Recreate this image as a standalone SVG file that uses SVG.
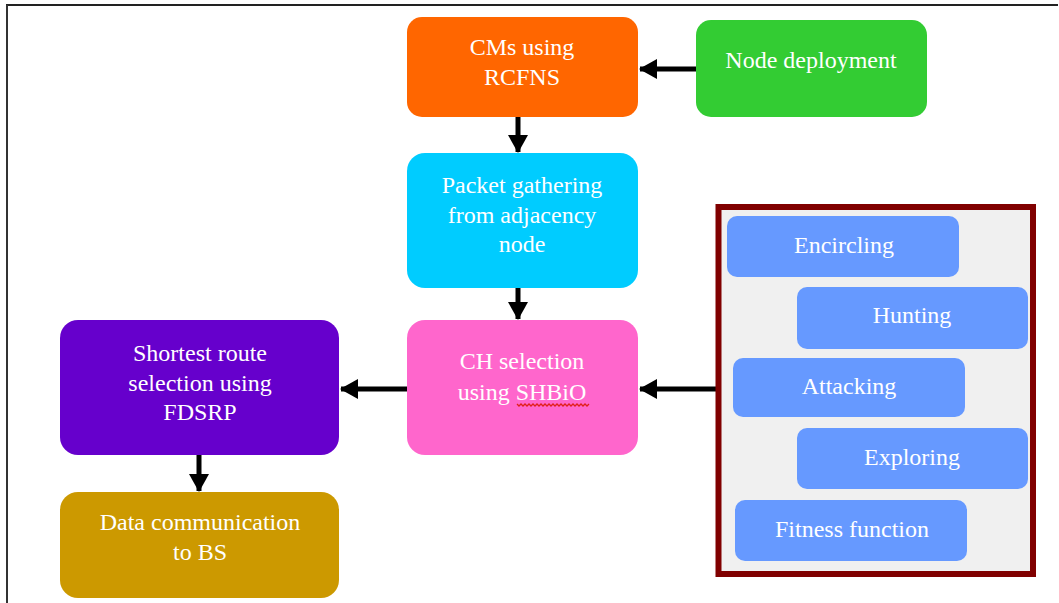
<svg xmlns="http://www.w3.org/2000/svg" width="1059" height="603" viewBox="0 0 1059 603">
  <style>
    .box { stroke: none; }
    .lbl { font-family: 'Liberation Serif', 'DejaVu Serif', serif; font-size: 24px; fill: #ffffff; text-anchor: middle; }
    .conn { stroke: #000000; stroke-width: 5; fill: none; marker-end: url(#head); }
    .step { fill: #6699ff; }
  </style>
  <defs>
    <marker id="head" markerUnits="userSpaceOnUse" markerWidth="18" markerHeight="20" refX="17" refY="10" orient="auto">
      <path d="M0,0 L18,10 L0,20 z" fill="#000000"/>
    </marker>
  </defs>

  <!-- page frame -->
  <rect x="0" y="0" width="1059" height="603" fill="#ffffff"/>
  <line x1="6" y1="5" x2="1058" y2="5" stroke="#222222" stroke-width="2"/>
  <line x1="7" y1="5" x2="7" y2="603" stroke="#333333" stroke-width="2"/>

  <!-- connectors -->
  <g id="connectors">
    <line class="conn" x1="696" y1="69" x2="640" y2="69"/>
    <line class="conn" x1="518" y1="117" x2="518" y2="152"/>
    <line class="conn" x1="518" y1="288" x2="518" y2="319"/>
    <line class="conn" x1="716" y1="389" x2="640" y2="389"/>
    <line class="conn" x1="407" y1="389" x2="341" y2="389"/>
    <line class="conn" x1="199" y1="455" x2="199" y2="491"/>
  </g>

  <g id="node-deployment">
    <rect class="box" x="696" y="20" width="231" height="97" rx="15" fill="#33cc33"/>
    <text class="lbl" x="811" y="68">Node deployment</text>
  </g>

  <g id="cms-rcfns">
    <rect class="box" x="407" y="17" width="231" height="100" rx="15" fill="#ff6600"/>
    <text class="lbl" x="522" y="55">CMs using</text>
    <text class="lbl" x="522" y="85">RCFNS</text>
  </g>

  <g id="packet-gathering">
    <rect class="box" x="407" y="153" width="231" height="135" rx="18" fill="#00ccff"/>
    <text class="lbl" x="522" y="193">Packet gathering</text>
    <text class="lbl" x="522" y="223">from adjacency</text>
    <text class="lbl" x="522" y="252">node</text>
  </g>

  <g id="ch-selection">
    <rect class="box" x="407" y="320" width="231" height="135" rx="18" fill="#ff66cc"/>
    <text class="lbl" x="522" y="369">CH selection</text>
    <text class="lbl" x="522" y="400">using SHBiO</text>
    <!-- spell-check squiggle -->
    <path d="M517,404 l2,2 l2,-2 l2,2 l2,-2 l2,2 l2,-2 l2,2 l2,-2 l2,2 l2,-2 l2,2 l2,-2 l2,2 l2,-2 l2,2 l2,-2 l2,2 l2,-2 l2,2 l2,-2 l2,2 l2,-2 l2,2 l2,-2 l2,2 l2,-2 l2,2 l2,-2 l2,2 l2,-2 l2,2 l2,-2 l2,2 l2,-2 l2,2 l2,-2" fill="none" stroke="#e0201a" stroke-width="1.3"/>
  </g>

  <g id="shortest-route">
    <rect class="box" x="60" y="320" width="279" height="135" rx="18" fill="#6600cc"/>
    <text class="lbl" x="200" y="361">Shortest route</text>
    <text class="lbl" x="200" y="391">selection using</text>
    <text class="lbl" x="200" y="420">FDSRP</text>
  </g>

  <g id="data-communication">
    <rect class="box" x="60" y="492" width="279" height="106" rx="18" fill="#cc9900"/>
    <text class="lbl" x="200" y="530">Data communication</text>
    <text class="lbl" x="200" y="560">to BS</text>
  </g>

  <!-- optimisation stages panel -->
  <g id="shbio-stages">
    <rect x="718.5" y="207" width="314.5" height="367" fill="#f0f0f0" stroke="#800000" stroke-width="6"/>
    <g id="encircling">
      <rect class="step" x="727" y="216" width="232" height="61" rx="10"/>
      <text class="lbl" x="844" y="253">Encircling</text>
    </g>
    <g id="hunting">
      <rect class="step" x="797" y="287" width="231" height="62" rx="10"/>
      <text class="lbl" x="912" y="323">Hunting</text>
    </g>
    <g id="attacking">
      <rect class="step" x="733" y="358" width="232" height="59" rx="10"/>
      <text class="lbl" x="849" y="394">Attacking</text>
    </g>
    <g id="exploring">
      <rect class="step" x="797" y="428" width="231" height="61" rx="10"/>
      <text class="lbl" x="912" y="465">Exploring</text>
    </g>
    <g id="fitness-function">
      <rect class="step" x="735" y="500" width="232" height="61" rx="10"/>
      <text class="lbl" x="852" y="537">Fitness function</text>
    </g>
  </g>
</svg>
